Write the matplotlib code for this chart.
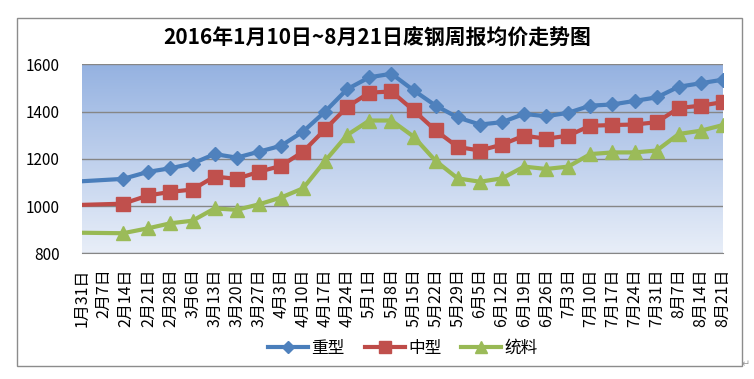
import numpy as np
import pandas as pd
import matplotlib
matplotlib.use("Agg")
import matplotlib.pyplot as plt
from matplotlib.patches import Rectangle

plt.rcParams['font.family'] = ['Noto Sans CJK SC', 'DejaVu Sans']

# weekly report dates (the first point sits on the axis start)
dates = pd.to_datetime([
    "2016-01-31", "2016-02-13", "2016-02-21", "2016-02-28", "2016-03-06",
    "2016-03-13", "2016-03-20", "2016-03-27", "2016-04-03", "2016-04-10",
    "2016-04-17", "2016-04-24", "2016-05-01", "2016-05-08", "2016-05-15",
    "2016-05-22", "2016-05-29", "2016-06-05", "2016-06-12", "2016-06-19",
    "2016-06-26", "2016-07-03", "2016-07-10", "2016-07-17", "2016-07-24",
    "2016-07-31", "2016-08-07", "2016-08-14", "2016-08-21",
])

heavy = [1105, 1115, 1145, 1160, 1180, 1220, 1205, 1230, 1255, 1315,
         1400, 1495, 1545, 1560, 1490, 1425, 1375, 1345, 1355, 1390,
         1380, 1395, 1425, 1430, 1445, 1460, 1505, 1520, 1535]
medium = [1005, 1010, 1045, 1060, 1070, 1125, 1115, 1145, 1170, 1230,
          1325, 1420, 1480, 1485, 1405, 1320, 1250, 1235, 1260, 1298,
          1285, 1298, 1340, 1343, 1345, 1355, 1415, 1425, 1440]
general = [887, 885, 906, 927, 938, 990, 984, 1007, 1036, 1075,
           1191, 1301, 1362, 1362, 1294, 1191, 1117, 1103, 1117, 1167,
           1157, 1167, 1220, 1227, 1227, 1235, 1305, 1319, 1343]

series_names = ["重型", "中型", "统料"]

tick_labels = ["1月31日", "2月7日", "2月14日", "2月21日", "2月28日", "3月6日",
               "3月13日", "3月20日", "3月27日", "4月3日", "4月10日", "4月17日",
               "4月24日", "5月1日", "5月8日", "5月15日", "5月22日", "5月29日",
               "6月5日", "6月12日", "6月19日", "6月26日", "7月3日", "7月10日",
               "7月17日", "7月24日", "7月31日", "8月7日", "8月14日", "8月21日"]
tick_dates = pd.date_range("2016-01-31", periods=len(tick_labels), freq="7D")

title = "2016年1月10日~8月21日废钢周报均价走势图"

fig = plt.figure(figsize=(7.54, 3.79), dpi=100)
W, H = 754, 379

# chart border
fig.patches.append(Rectangle((17 / W, 1 - 366 / H), 725 / W, 348 / H,
                             transform=fig.transFigure, fill=False,
                             edgecolor="#8c8c8c", linewidth=1))

ax = fig.add_axes([82 / W, 1 - 253.3 / H, 641 / W, 189 / H])

# gradient background of the plot area
top = np.array([149, 178, 225]) / 255
bot = np.array([232, 238, 248]) / 255
t = np.linspace(0, 1, 256)[:, None]
grad = (top * (1 - t) + bot * t)[:, None, :]
ax.imshow(grad, extent=[0, 1, 0, 1], transform=ax.transAxes,
          aspect="auto", zorder=0)

styles = [
    (heavy, "#4A7EBB", "#4F81BD", "D", 7.5),
    (medium, "#BE4B48", "#C0504D", "s", 10),
    (general, "#98B954", "#9BBB59", "^", 10),
]
handles = []
for (vals, lc, mc, mk, ms), name in zip(styles, series_names):
    ax.plot(dates, vals, color=lc, lw=3, zorder=3,
            marker=mk, ms=ms, mfc=mc, mec=mc,
            markevery=list(range(1, len(vals))))
    h, = ax.plot([], [], color=lc, lw=3, marker=mk, ms=ms * 0.8, mfc=mc, mec=mc)
    handles.append(h)

ax.set_xlim(tick_dates[0], tick_dates[-1])
ax.set_ylim(800, 1600)
ax.set_yticks([800, 1000, 1200, 1400, 1600])
ax.set_xticks(tick_dates)
ax.set_xticklabels(tick_labels, rotation=90, fontsize=11.5)
ax.tick_params(axis="x", length=0, pad=11)
ax.tick_params(axis="y", length=0, pad=16, labelsize=11)
ax.set_axisbelow(True)
ax.yaxis.grid(True, color="#868686", lw=1)
for s in ["top", "left", "right"]:
    ax.spines[s].set_visible(False)
ax.spines["bottom"].set_color("#868686")

fig.text(377 / W, 1 - 38 / H, title, ha="center", va="center",
         fontsize=15, fontweight="bold")

fig.legend(handles, series_names, loc="center", ncol=3,
           bbox_to_anchor=(403 / W, 1 - 348.5 / H), frameon=False,
           fontsize=12, handlelength=2.4, handletextpad=0.2,
           columnspacing=1.2, borderpad=0)

fig.text(746 / W, 1 - 364 / H, "↵", fontsize=7, color="#999999",
         ha="center", va="center", family="DejaVu Sans")

fig.savefig("out.png", dpi=100)
